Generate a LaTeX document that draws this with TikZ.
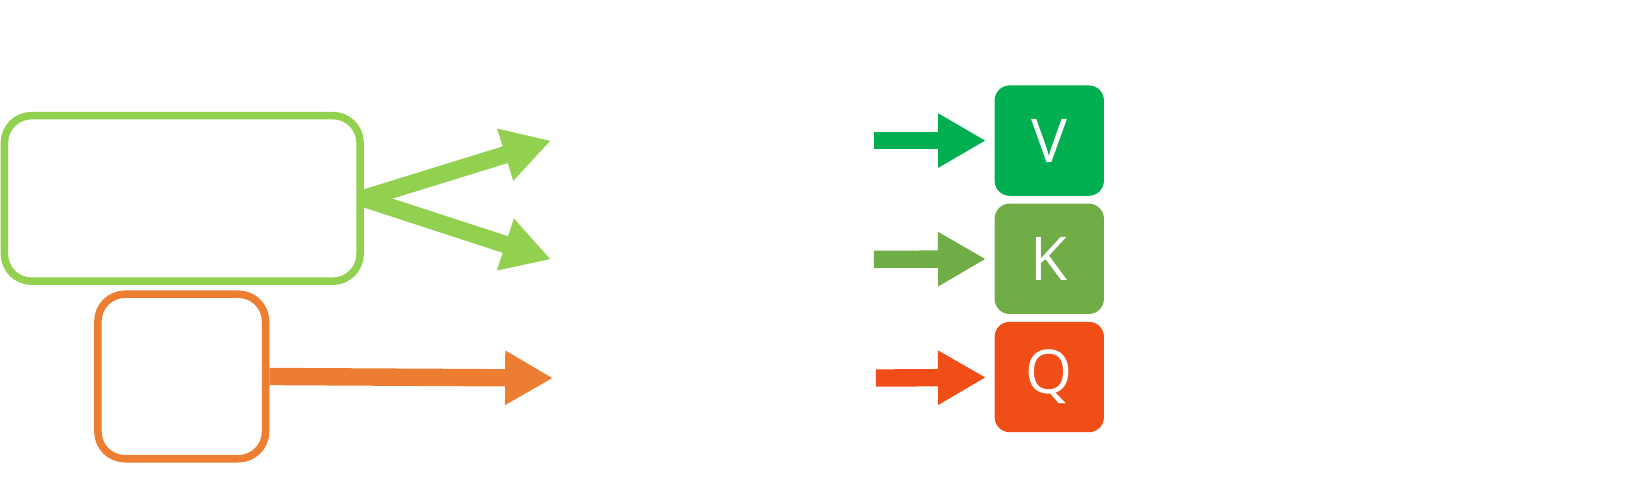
\documentclass[tikz,border=0pt]{standalone}
\usepackage{fontspec}
\setmainfont{Open Sans}
\usetikzlibrary{arrows.meta,positioning,calc}
\definecolor{lightgreen}{HTML}{92D050}
\definecolor{mygreen}{HTML}{00B050}
\definecolor{olivegreen}{HTML}{70AD47}
\definecolor{myorange}{HTML}{ED7D31}
\definecolor{redorange}{HTML}{F04E16}

\begin{document}
\begin{tikzpicture}[x=0.02cm,y=-0.02cm,
    outbox/.style={draw,line width=4.1pt,rounded corners=0.52cm,fill=white},
    letterbox/.style={rounded corners=0.29cm,minimum width=2.1cm,minimum height=2.12cm,text=white,font=\fontsize{33}{33}\selectfont},
    fatarrow/.style={line width=9.5pt,-{Triangle[length=0.92cm,width=0.98cm]}}]
    \useasboundingbox (0,0) rectangle (1568,480);

    % Input boxes
    \node[outbox,draw=lightgreen,minimum width=6.83cm,minimum height=3.18cm] (wide) at (175,190.5) {};
    \node[outbox,draw=myorange,minimum width=3.22cm,minimum height=3.16cm] (small) at (174.5,361.5) {};

    % Free ends
    \coordinate (up) at (529,135);
    \coordinate (down) at (529,249);
    \coordinate (mid) at (531,363);

    \draw[fatarrow,lightgreen] (wide.east) -- (up);
    \draw[fatarrow,lightgreen] (wide.east) -- (down);
    \draw[fatarrow,myorange] (small.east) -- (mid);

    % V, K and Q
    \node[letterbox,fill=mygreen] (vbox) at (1007.5,135) {V};
    \node[letterbox,fill=olivegreen] (kbox) at (1007.5,248.5) {K};
    \node[letterbox,fill=redorange] (qbox) at (1007.5,362) {Q};

    \coordinate (vin) at (839,135);
    \coordinate (kin) at (839,249);
    \coordinate (qin) at (841,363);

    \draw[fatarrow,mygreen,shorten >=0.16cm] (vin) -- (vbox);
    \draw[fatarrow,olivegreen,shorten >=0.16cm] (kin) -- (kbox);
    \draw[fatarrow,redorange,shorten >=0.16cm] (qin) -- (qbox);
\end{tikzpicture}
\end{document}
